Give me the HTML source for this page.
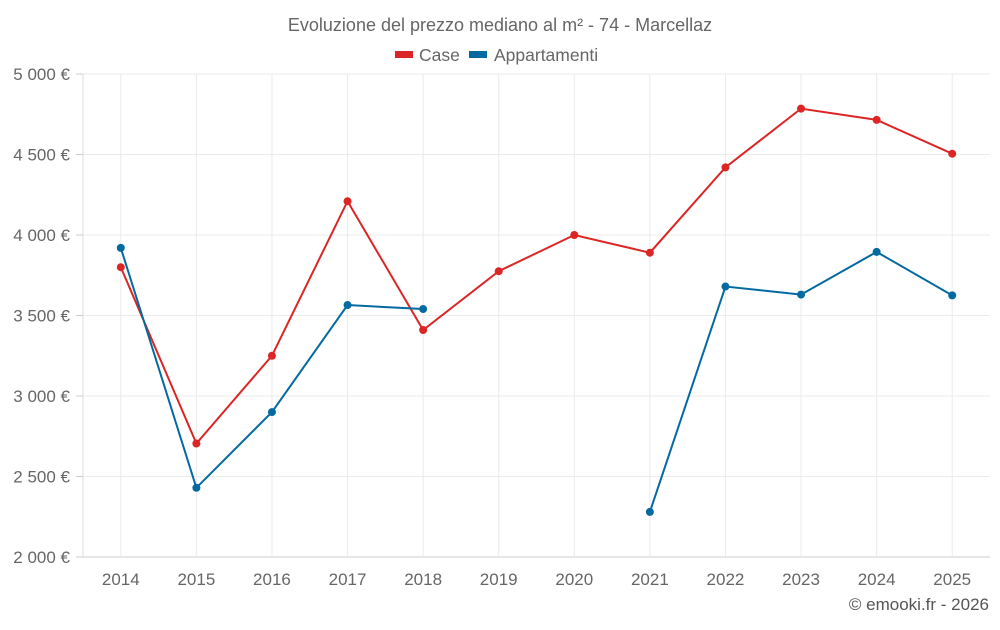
<!DOCTYPE html>
<html><head><meta charset="utf-8"><style>
body{margin:0;background:#fff;font-family:"Liberation Sans",sans-serif}
svg text{font-family:"Liberation Sans",sans-serif}
</style></head><body>
<svg id="c" width="1000" height="625" xmlns="http://www.w3.org/2000/svg">
<text x="500" y="31" text-anchor="middle" font-size="18" fill="#666">Evoluzione del prezzo mediano al m² - 74 - Marcellaz</text>
<g>
<g><rect x="395" y="51" width="18" height="7" fill="#dc2626"/><text x="419" y="61" font-size="17.5" fill="#666">Case</text></g>
<g><rect x="469" y="51" width="18" height="7" fill="#0369a1"/><text x="494" y="61" font-size="17.5" fill="#666">Appartamenti</text></g>
</g>
<g id="grid"></g><g id="axes"></g><g id="series"></g>
<text x="989" y="610" text-anchor="end" font-size="17" fill="#555">© emooki.fr - 2026</text>
</svg>
<script>
const years=["2014","2015","2016","2017","2018","2019","2020","2021","2022","2023","2024","2025"];
const caseValues=[3800,2705,3250,4210,3410,3775,4000,3890,4420,4785,4715,4505];
const apptValues=[3920,2430,2900,3565,3540,null,null,2280,3680,3630,3895,3625];
const yTicks=[2000,2500,3000,3500,4000,4500,5000];
const yTickLabels=["2 000 €","2 500 €","3 000 €","3 500 €","4 000 €","4 500 €","5 000 €"];
const L=83,R=990,T=74,B=557,ymin=2000,ymax=5000;
const bw=(R-L)/years.length;
const x=i=>L+bw*(i+0.5);
const y=v=>B-(v-ymin)/(ymax-ymin)*(B-T);
const NS="http://www.w3.org/2000/svg";
function mk(tag,attrs,parent){const e=document.createElementNS(NS,tag);for(const k in attrs)e.setAttribute(k,attrs[k]);document.getElementById(parent).appendChild(e);return e;}
yTicks.forEach((t,i)=>{
 const g=mk('line',{x1:L,x2:R,y1:y(t),y2:y(t),stroke:i==0?'#ccc':'#ebebeb','stroke-width':1},'grid');
 
 
 const tk=mk('line',{x1:L-7,x2:L,y1:y(t),y2:y(t),stroke:'#ccc'},'axes');
 
 
 const tx=mk('text',{x:70,y:y(t)+6,'text-anchor':'end','font-size':17,fill:'#666'},'axes');
 tx.textContent=yTickLabels[i];
 
 
});
years.forEach((yr,i)=>{
 const g=mk('line',{x1:x(i),x2:x(i),y1:T,y2:B,stroke:'#ebebeb'},'grid');
 
 
 const tx=mk('text',{x:x(i),y:585,'text-anchor':'middle','font-size':17,fill:'#666'},'axes');
 tx.textContent=yr;
 
 
});
const ax=mk('line',{x1:L,x2:L,y1:T,y2:B,stroke:'#ddd'},'axes');


function draw(vals,color,name){
 let d='',pen=false;
 vals.forEach((v,i)=>{if(v==null){pen=false;return;}d+=(pen?'L':'M')+x(i)+' '+y(v)+' ';pen=true;});
 const p=mk('path',{d:d,fill:'none',stroke:color,'stroke-width':2},'series');
 
 
 vals.forEach((v,i)=>{if(v==null)return;
  const c=mk('circle',{cx:x(i),cy:y(v),r:4,fill:color},'series');
  
  
 });
}
draw(caseValues,'#dc2626','case');
draw(apptValues,'#0369a1','appartamenti');
</script>
</body></html>
